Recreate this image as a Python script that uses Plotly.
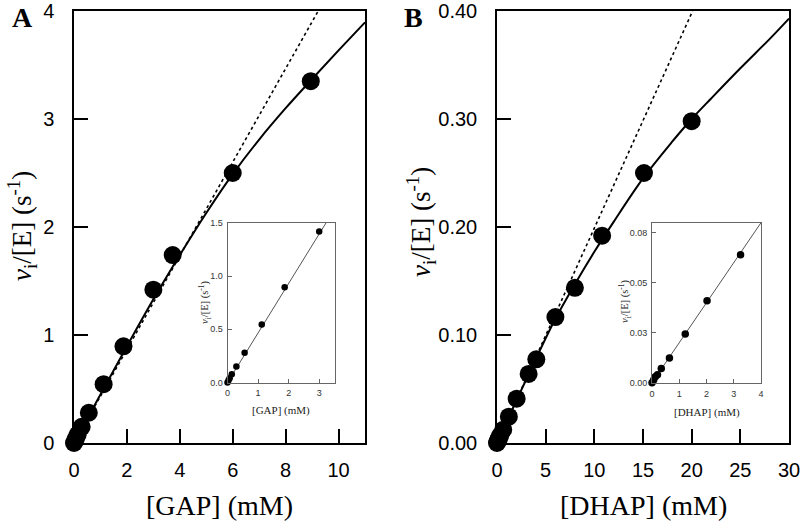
import plotly.graph_objects as go

# ---------------- data ----------------
# Panel A: GAP
gap_x = [0, 0.035, 0.07, 0.14, 0.29, 0.56, 1.12, 1.87, 3.0, 3.73, 6.0, 8.95]
gap_y = [0, 0.02, 0.04, 0.078, 0.15, 0.28, 0.545, 0.895, 1.42, 1.74, 2.50, 3.35]
gap_fit_x = [0, 1, 2, 3, 4, 5, 6, 7, 8, 9, 10, 11]
gap_fit_y = [0, 0.45, 0.895, 1.33, 1.74, 2.13, 2.49, 2.81, 3.10, 3.37, 3.635, 3.895]
gap_lin_x = [0, 9.23]
gap_lin_y = [0, 4.0]
gap_inset_line_x = [0, 3.22]
gap_inset_line_y = [0, 1.5]

# Panel B: DHAP
dhap_x = [0, 0.06, 0.12, 0.2, 0.34, 0.64, 1.22, 2.02, 3.25, 4.04, 6.0, 8.0, 10.8, 15.1, 20.0]
dhap_y = [0, 0.0013, 0.003, 0.004, 0.0071, 0.0123, 0.0244, 0.041, 0.064, 0.0775, 0.1166, 0.1437, 0.192, 0.250, 0.298]
dhap_fit_x = [0, 2, 4, 6, 8, 10, 12, 15, 18, 20, 22, 25, 28, 30]
dhap_fit_y = [0, 0.0395, 0.078, 0.115, 0.147, 0.177, 0.205, 0.245, 0.279, 0.300, 0.319, 0.347, 0.374, 0.393]
dhap_lin_x = [0, 20.1]
dhap_lin_y = [0, 0.40]
dhap_inset_line_x = [0, 4.0]
dhap_inset_line_y = [0, 0.08]

# tick labels
gap_xticks = [0, 2, 4, 6, 8, 10]
gap_yticks = [0, 1, 2, 3, 4]
dhap_xticks = [0, 5, 10, 15, 20, 25, 30]
dhap_yticks = [0.0, 0.1, 0.2, 0.3, 0.4]
gap_in_xticks = [0, 1, 2, 3]
gap_in_yticks = [0.0, 0.5, 1.0, 1.5]
dhap_in_xticks = [0, 1, 2, 3, 4]
dhap_in_yticks = [0, 0.025, 0.05, 0.075]
dhap_in_ytext = ["0.00", "0.03", "0.05", "0.08"]

W, H = 800, 528


def fx(px):
    return px / W


def fy(py):
    return 1 - py / H


SANS = "Liberation Sans, Arial, sans-serif"
SERIF = "Liberation Serif, Times New Roman, serif"
YTITLE = "<i>v</i><sub>i</sub>/[E] (s<sup>-1</sup>)"

fig = go.Figure()

# ---- main A ----
fig.add_trace(go.Scatter(x=gap_lin_x, y=gap_lin_y, mode="lines",
                         line=dict(color="black", width=1.6, dash="dot"),
                         xaxis="x", yaxis="y", showlegend=False))
fig.add_trace(go.Scatter(x=gap_fit_x, y=gap_fit_y, mode="lines", line_shape="spline",
                         line=dict(color="black", width=2),
                         xaxis="x", yaxis="y", showlegend=False))
fig.add_trace(go.Scatter(x=gap_x, y=gap_y, mode="markers",
                         marker=dict(color="black", size=18),
                         xaxis="x", yaxis="y", showlegend=False, cliponaxis=False))

# ---- main B ----
fig.add_trace(go.Scatter(x=dhap_lin_x, y=dhap_lin_y, mode="lines",
                         line=dict(color="black", width=1.6, dash="dot"),
                         xaxis="x2", yaxis="y2", showlegend=False))
fig.add_trace(go.Scatter(x=dhap_fit_x, y=dhap_fit_y, mode="lines", line_shape="spline",
                         line=dict(color="black", width=2),
                         xaxis="x2", yaxis="y2", showlegend=False))
fig.add_trace(go.Scatter(x=dhap_x, y=dhap_y, mode="markers",
                         marker=dict(color="black", size=18),
                         xaxis="x2", yaxis="y2", showlegend=False, cliponaxis=False))

# ---- inset A ----
gin_x = [v for v in gap_x if v <= 3.2]
gin_y = [gap_y[i] for i, v in enumerate(gap_x) if v <= 3.2]
fig.add_trace(go.Scatter(x=gap_inset_line_x, y=gap_inset_line_y, mode="lines",
                         line=dict(color="#555555", width=1),
                         xaxis="x3", yaxis="y3", showlegend=False))
fig.add_trace(go.Scatter(x=gin_x, y=gin_y, mode="markers",
                         marker=dict(color="black", size=6.5),
                         xaxis="x3", yaxis="y3", showlegend=False, cliponaxis=False))

# ---- inset B ----
din_x = [v for v in dhap_x if v <= 3.5]
din_y = [dhap_y[i] for i, v in enumerate(dhap_x) if v <= 3.5]
fig.add_trace(go.Scatter(x=dhap_inset_line_x, y=dhap_inset_line_y, mode="lines",
                         line=dict(color="#555555", width=1),
                         xaxis="x4", yaxis="y4", showlegend=False))
fig.add_trace(go.Scatter(x=din_x, y=din_y, mode="markers",
                         marker=dict(color="black", size=7.5),
                         xaxis="x4", yaxis="y4", showlegend=False, cliponaxis=False))

main_ax = dict(showline=True, linecolor="black", linewidth=1.5, mirror=True,
               ticks="inside", ticklen=14, tickwidth=1.5, tickcolor="black",
               showgrid=False, zeroline=False, automargin=False,
               ticklabeloverflow="allow",
               tickfont=dict(family=SANS, size=20, color="black"))
in_ax = dict(showline=True, linecolor="#666666", linewidth=1, mirror=True,
             ticks="inside", ticklen=4, tickwidth=1, tickcolor="#666666",
             showgrid=False, zeroline=False, automargin=False,
             tickfont=dict(family=SANS, size=9, color="#333333"))

fig.update_layout(
    width=W, height=H,
    margin=dict(l=0, r=0, t=0, b=0, autoexpand=False),
    paper_bgcolor="white", plot_bgcolor="rgba(0,0,0,0)",
    xaxis=dict(main_ax, domain=[fx(74), fx(365)], range=[0, 11], tickvals=gap_xticks,
               anchor="y", ticklabelstandoff=8),
    yaxis=dict(main_ax, domain=[fy(443), fy(11)], range=[0, 4], tickvals=gap_yticks,
               anchor="x", ticklabelstandoff=14),
    xaxis2=dict(main_ax, domain=[fx(497), fx(789)], range=[0, 30], tickvals=dhap_xticks,
                anchor="y2", ticklabelstandoff=8),
    yaxis2=dict(main_ax, domain=[fy(443), fy(11)], range=[0, 0.40], tickvals=dhap_yticks,
                tickformat=".2f", anchor="x2", ticklabelstandoff=14),
    xaxis3=dict(in_ax, domain=[fx(227.5), fx(334.5)], range=[0, 3.5], tickvals=gap_in_xticks,
                anchor="y3", ticklabelstandoff=2),
    yaxis3=dict(in_ax, domain=[fy(382.5), fy(223)], range=[0, 1.5], tickvals=gap_in_yticks,
                tickformat=".1f", anchor="x3", ticklabelstandoff=2),
    xaxis4=dict(in_ax, domain=[fx(652), fx(761)], range=[0, 4], tickvals=dhap_in_xticks,
                anchor="y4", ticklabelstandoff=2),
    yaxis4=dict(in_ax, domain=[fy(382.7), fy(222.7)], range=[0, 0.08], tickvals=dhap_in_yticks,
                ticktext=dhap_in_ytext, anchor="x4", ticklabelstandoff=2),
)

ann = []
# panel letters
ann.append(dict(text="<b>A</b>", x=fx(22), y=fy(18), font=dict(family=SERIF, size=28, color="black")))
ann.append(dict(text="<b>B</b>", x=fx(414), y=fy(18), font=dict(family=SERIF, size=28, color="black")))
# main axis titles
ann.append(dict(text="[GAP] (mM)", x=fx(219.5), y=fy(505), font=dict(family=SERIF, size=28, color="black")))
ann.append(dict(text="[DHAP] (mM)", x=fx(643), y=fy(505), font=dict(family=SERIF, size=28, color="black")))
ann.append(dict(text=YTITLE, x=fx(22), y=fy(226), textangle=-90, font=dict(family=SERIF, size=27, color="black")))
ann.append(dict(text=YTITLE, x=fx(421), y=fy(222), textangle=-90, font=dict(family=SERIF, size=27, color="black")))
# inset titles
ann.append(dict(text="[GAP] (mM)", x=fx(281), y=fy(410), font=dict(family=SERIF, size=11, color="#222222")))
ann.append(dict(text="[DHAP] (mM)", x=fx(707), y=fy(412), font=dict(family=SERIF, size=11, color="#222222")))
ann.append(dict(text=YTITLE, x=fx(205), y=fy(302), textangle=-90, font=dict(family=SERIF, size=10.5, color="#222222")))
ann.append(dict(text=YTITLE, x=fx(625), y=fy(302), textangle=-90, font=dict(family=SERIF, size=10.5, color="#222222")))

for a in ann:
    a.update(xref="paper", yref="paper", showarrow=False, xanchor="center", yanchor="middle")
fig.update_layout(annotations=ann)

fig.write_html("out.html", config={"displayModeBar": False},
               post_script="document.body.style.margin='0px';document.body.style.overflow='hidden';")
